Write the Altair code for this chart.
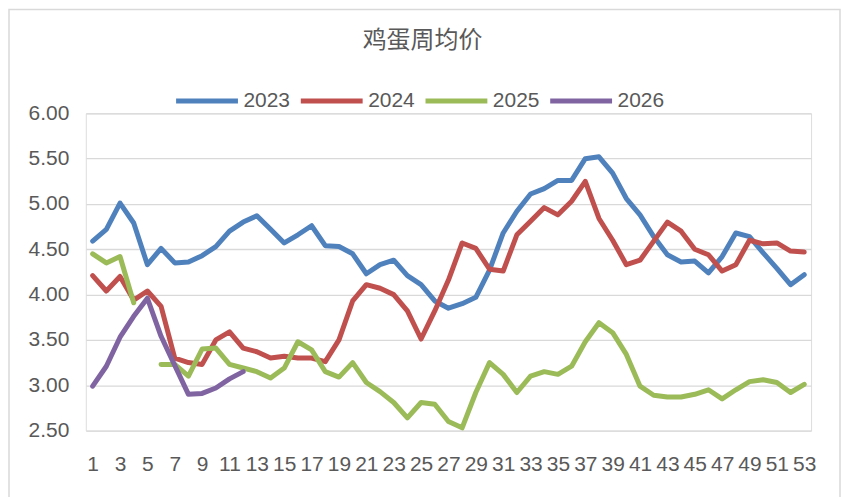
import altair as alt
import pandas as pd

weeks = list(range(1, 54))
years = ["2023", "2024", "2025", "2026"]
colors = ["#4F81BD", "#C0504D", "#9BBB59", "#8064A2"]

p2023 = [4.59, 4.72, 5.01, 4.79, 4.33, 4.51, 4.35, 4.36, 4.43, 4.53,
         4.70, 4.80, 4.87, 4.72, 4.57, 4.66, 4.76, 4.54, 4.53, 4.45,
         4.23, 4.33, 4.38, 4.21, 4.11, 3.93, 3.85, 3.90, 3.97, 4.27,
         4.68, 4.92, 5.11, 5.17, 5.26, 5.26, 5.50, 5.52, 5.34, 5.06,
         4.88, 4.64, 4.44, 4.36, 4.37, 4.24, 4.42, 4.68, 4.64, 4.46,
         4.29, 4.11, 4.22]
p2024 = [4.21, 4.04, 4.20, 3.94, 4.04, 3.87, 3.30, 3.25, 3.23, 3.50,
         3.59, 3.41, 3.37, 3.30, 3.32, 3.30, 3.30, 3.26, 3.50, 3.93,
         4.11, 4.07, 4.00, 3.82, 3.51, 3.82, 4.16, 4.57, 4.51, 4.28,
         4.26, 4.66, 4.81, 4.96, 4.88, 5.03, 5.25, 4.84, 4.60, 4.33,
         4.38, 4.59, 4.80, 4.70, 4.50, 4.44, 4.26, 4.33, 4.60, 4.56,
         4.57, 4.48, 4.47]
p2025 = [4.45, 4.35, 4.42, 3.91, None, 3.23, 3.23, 3.10, 3.40, 3.41,
         3.23, 3.19, 3.15, 3.08, 3.19, 3.48, 3.39, 3.15, 3.09, 3.25,
         3.03, 2.93, 2.81, 2.64, 2.81, 2.79, 2.60, 2.53, 2.92, 3.25,
         3.12, 2.92, 3.10, 3.15, 3.12, 3.21, 3.48, 3.69, 3.58, 3.34,
         2.99, 2.89, 2.87, 2.87, 2.90, 2.95, 2.85, 2.95, 3.04, 3.06,
         3.03, 2.92, 3.01]
p2026 = [2.99, 3.21, 3.53, 3.76, 3.96, 3.54, 3.22, 2.90, 2.91, 2.97,
         3.07, 3.15]

y_ticks = [2.5, 3.0, 3.5, 4.0, 4.5, 5.0, 5.5, 6.0]
x_ticks = list(range(1, 54, 2))

rows = []
for yr, series in zip(years, [p2023, p2024, p2025, p2026]):
    seg = 0
    for wk, val in zip(weeks, series):
        if val is None:
            seg += 1
            continue
        rows.append({"week": wk, "price": val, "year": yr, "seg": f"{yr}-{seg}"})
df = pd.DataFrame(rows)

font = "Liberation Sans"
grey = "#595959"

lines = alt.Chart(df).mark_line(
    strokeWidth=5, strokeCap="round", strokeJoin="round"
).encode(
    x=alt.X("week:Q",
            scale=alt.Scale(domain=[0.5, 53.5], nice=False, zero=False),
            axis=alt.Axis(values=x_ticks, format="d", grid=False, domain=False,
                          ticks=False, labelOverlap=False, labelFlush=False,
                          labelPadding=23, labelFontSize=21, labelColor=grey,
                          labelFont=font, title=None)),
    y=alt.Y("price:Q",
            scale=alt.Scale(domain=[2.5, 6.0], nice=False, zero=False),
            axis=alt.Axis(values=y_ticks, format=".2f", grid=True, domain=False,
                          ticks=False, labelPadding=17, labelFontSize=21,
                          labelColor=grey, labelFont=font, gridColor="#D9D9D9",
                          gridWidth=1.3, title=None)),
    color=alt.Color("year:N",
                    scale=alt.Scale(domain=years, range=colors),
                    legend=alt.Legend(orient="none", legendX=88, legendY=-46,
                                      direction="horizontal", title=None,
                                      symbolType="stroke", symbolSize=3844,
                                      symbolStrokeWidth=5, labelFontSize=21,
                                      labelFont=font, labelColor=grey,
                                      labelOffset=3, columnPadding=0,
                                      padding=0)),
    detail="seg:N",
    order="week:Q",
)

# chart-area frame (decoration, like the spreadsheet chart border)
frame = alt.Chart(pd.DataFrame({"f": [0]})).mark_rect(
    fill="transparent", stroke="#D9D9D9", strokeWidth=1.5
).encode(
    x=alt.value(-77), x2=alt.value(756),
    y=alt.value(-104), y2=alt.value(420),
)

chart = alt.layer(frame, lines).properties(
    width=727,
    height=318,
    title=alt.TitleParams("鸡蛋周均价", font="Noto Sans CJK SC", fontSize=24,
                          fontWeight="normal", color=grey, anchor="middle",
                          frame="group", dx=-26, dy=44, offset=0),
    padding={"left": 78, "top": 105, "right": 31, "bottom": 66},
    autosize=alt.AutoSizeParams(type="none"),
).configure_view(stroke=None).configure(background="white")

chart.save("out.html", embed_options={"renderer": "svg", "actions": False})
